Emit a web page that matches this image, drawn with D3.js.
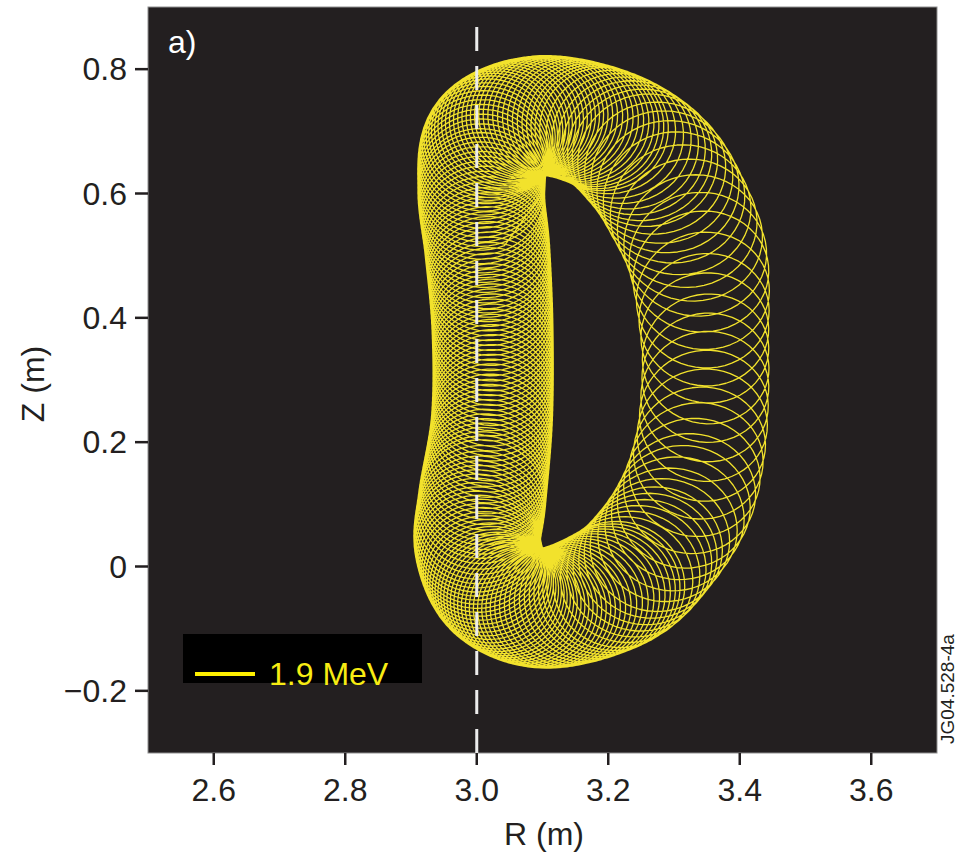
<!DOCTYPE html>
<html>
<head>
<meta charset="utf-8">
<script src="https://cdn.jsdelivr.net/npm/d3@7"></script>
<style>
  html, body { margin: 0; padding: 0; background: #ffffff; }
  svg { display: block; }
  text { font-family: "Liberation Sans", Arial, Helvetica, sans-serif; }
</style>
</head>
<body>
<svg id="chart" width="960" height="854"></svg>
<script>
// Axis ticks
const rTicks = [2.6, 2.8, 3.0, 3.2, 3.4, 3.6];
const rTickLabels = ["2.6", "2.8", "3.0", "3.2", "3.4", "3.6"];
const zTicks = [-0.2, 0, 0.2, 0.4, 0.6, 0.8];
const zTickLabels = ["\u22120.2", "0", "0.2", "0.4", "0.6", "0.8"];

// Guiding-centre path of the 1.9 MeV ion orbit (closed loop), metres
const gcR = [3.007, 3.021, 3.097, 3.193, 3.259, 3.300, 3.336, 3.347, 3.347, 3.340, 3.318,
             3.273, 3.212, 3.108, 3.033, 3.002, 3.008, 3.023, 3.024, 3.016];
const gcZ = [0.606, 0.690, 0.725, 0.703, 0.652, 0.589, 0.496, 0.365, 0.281, 0.195, 0.108,
             0.031, -0.030, -0.067, -0.040, 0.030, 0.107, 0.236, 0.381, 0.510];
// Larmor radius at each path point, metres
const larmorRadius = [0.0965, 0.099, 0.0966, 0.100, 0.109, 0.110, 0.106, 0.097, 0.097, 0.099, 0.103,
                      0.103, 0.103, 0.0966, 0.095, 0.096, 0.097, 0.092, 0.092, 0.095];
// Guiding-centre advance per gyration at each path point, metres
const gyroStep = [0.008, 0.006, 0.006, 0.009, 0.015, 0.022, 0.028, 0.032, 0.032, 0.030, 0.024,
                  0.017, 0.010, 0.006, 0.006, 0.007, 0.008, 0.008, 0.008, 0.008];

// Reference major radius marked by the dashed line
const rRef = 3.0;
const legendLabel = "1.9 MeV";
const panelLabel = "a)";
const figureId = "JG04.528-4a";

const svg = d3.select("#chart");
const plot = { left: 148, right: 937, top: 7, bottom: 753 };

const x = d3.scaleLinear().domain([2.5, 3.7]).range([plot.left, plot.right]);
const y = d3.scaleLinear().domain([-0.3, 0.9]).range([plot.bottom, plot.top]);

// Plot background
svg.append("rect")
  .attr("x", plot.left).attr("y", plot.top)
  .attr("width", plot.right - plot.left).attr("height", plot.bottom - plot.top)
  .attr("fill", "#231f20")
  .attr("stroke", "#8f8f8f").attr("stroke-width", 1);

// Orbit: gyration about the guiding centre, which follows a closed Catmull-Rom path
function catmull(p0, p1, p2, p3, t) {
  const t2 = t * t, t3 = t2 * t;
  return 0.5 * (2 * p1 + (-p0 + p2) * t + (2 * p0 - 5 * p1 + 4 * p2 - p3) * t2 +
                (-p0 + 3 * p1 - 3 * p2 + p3) * t3);
}
const n = gcR.length;
const orbit = [];
let phase = 0;
const perTurn = 56;
for (let i = 0; i < n; i++) {
  const i0 = (i - 1 + n) % n, i1 = i, i2 = (i + 1) % n, i3 = (i + 2) % n;
  const segLen = Math.hypot(gcR[i2] - gcR[i1], gcZ[i2] - gcZ[i1]);
  const turns = segLen / ((gyroStep[i1] + gyroStep[i2]) / 2);
  const steps = Math.max(4, Math.round(turns * perTurn));
  for (let k = 0; k < steps; k++) {
    const t = k / steps;
    const R = catmull(gcR[i0], gcR[i1], gcR[i2], gcR[i3], t);
    const Z = catmull(gcZ[i0], gcZ[i1], gcZ[i2], gcZ[i3], t);
    const rho = catmull(larmorRadius[i0], larmorRadius[i1], larmorRadius[i2], larmorRadius[i3], t);
    const ph = phase + 2 * Math.PI * turns * t;
    orbit.push({ R: R + rho * Math.cos(ph), Z: Z + rho * Math.sin(ph) });
  }
  phase += 2 * Math.PI * turns;
}
orbit.push(orbit[0]);

const line = d3.line().x(d => x(d.R)).y(d => y(d.Z));
svg.append("path")
  .attr("d", line(orbit))
  .attr("fill", "none")
  .attr("stroke", "#f2e22c")
  .attr("stroke-width", 1.3)
  .attr("stroke-linejoin", "round");

// Dashed reference line at R = 3.0 m
svg.append("line")
  .attr("x1", x(rRef)).attr("x2", x(rRef))
  .attr("y1", y(0.868)).attr("y2", y(-0.3))
  .attr("stroke", "#ececec").attr("stroke-width", 3)
  .attr("stroke-dasharray", "24,15");

// Legend
const lg = svg.append("g");
lg.append("rect").attr("x", 183).attr("y", 634).attr("width", 239).attr("height", 49).attr("fill", "#000000");
lg.append("line").attr("x1", 195).attr("x2", 255).attr("y1", 674).attr("y2", 674)
  .attr("stroke", "#fff000").attr("stroke-width", 4);
lg.append("text").attr("x", 269).attr("y", 685).attr("font-size", 32).attr("fill", "#f7ec13").text(legendLabel);

// Panel label
svg.append("text").attr("x", 168).attr("y", 53).attr("font-size", 32).attr("fill", "#ffffff").text(panelLabel);

// X axis
const xAxis = svg.append("g");
xAxis.selectAll("line").data(rTicks).join("line")
  .attr("x1", d => x(d)).attr("x2", d => x(d))
  .attr("y1", plot.bottom).attr("y2", plot.bottom + 12)
  .attr("stroke", "#231f20").attr("stroke-width", 2.5);
xAxis.selectAll("text").data(rTicks).join("text")
  .attr("x", d => x(d)).attr("y", 801)
  .attr("text-anchor", "middle").attr("font-size", 32).attr("fill", "#231f20")
  .text((d, i) => rTickLabels[i]);
svg.append("text").attr("x", 544).attr("y", 845).attr("text-anchor", "middle")
  .attr("font-size", 32).attr("fill", "#231f20").text("R (m)");

// Z axis
const zAxis = svg.append("g");
zAxis.selectAll("line").data(zTicks).join("line")
  .attr("x1", plot.left - 13).attr("x2", plot.left)
  .attr("y1", d => y(d)).attr("y2", d => y(d))
  .attr("stroke", "#231f20").attr("stroke-width", 2.5);
zAxis.selectAll("text").data(zTicks).join("text")
  .attr("x", 127).attr("y", d => y(d) + 11)
  .attr("text-anchor", "end").attr("font-size", 32).attr("fill", "#231f20")
  .text((d, i) => zTickLabels[i]);
svg.append("text").attr("transform", "translate(44,384) rotate(-90)")
  .attr("text-anchor", "middle").attr("font-size", 32).attr("fill", "#231f20").text("Z (m)");

// Figure identifier
svg.append("text").attr("transform", "translate(954,744) rotate(-90)")
  .attr("font-size", 19).attr("fill", "#231f20").text(figureId);
</script>
</body>
</html>
